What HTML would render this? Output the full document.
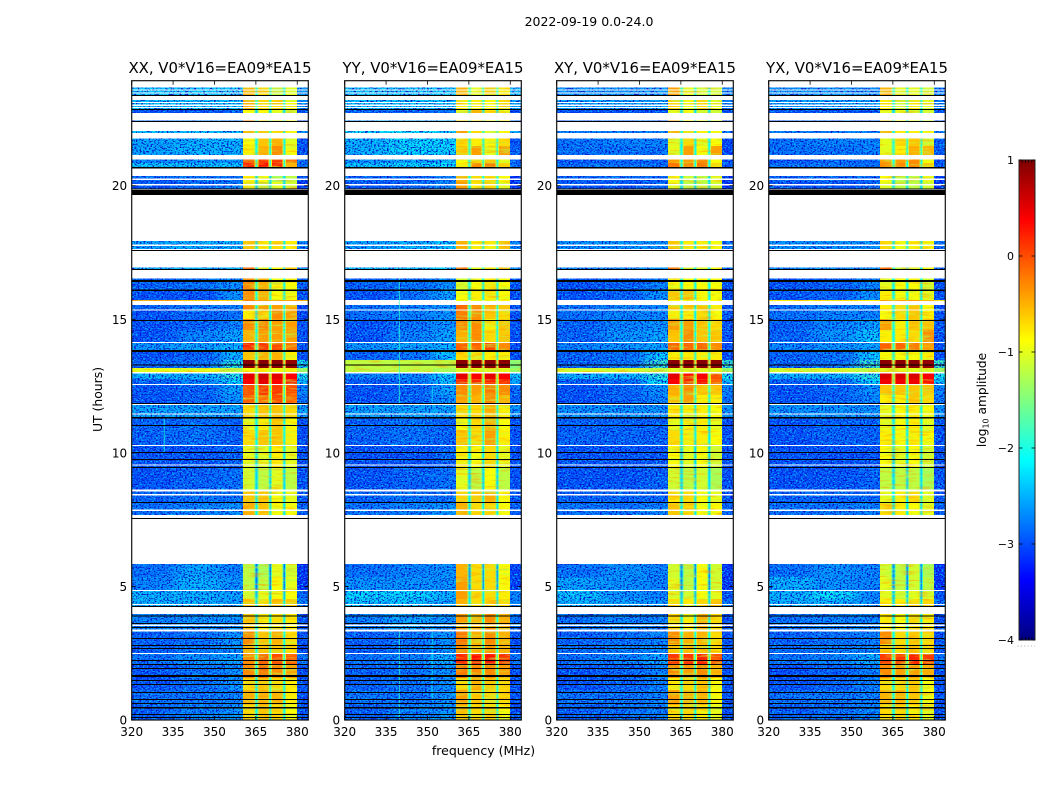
<!DOCTYPE html>
<html>
<head>
<meta charset="utf-8">
<title>2022-09-19 0.0-24.0</title>
<style>
html,body{margin:0;padding:0;background:#fff;width:1050px;height:800px;overflow:hidden}
svg{display:block}
text{font-family:"DejaVu Sans","Liberation Sans",sans-serif;fill:#000}
</style>
</head>
<body>
<svg id="fig" xmlns="http://www.w3.org/2000/svg" width="1050" height="800" viewBox="0 0 1050 800">
<defs>
<filter id="speck" x="0" y="0" width="100%" height="100%" color-interpolation-filters="sRGB">
<feGaussianBlur in="SourceGraphic" stdDeviation="7 0" result="blur"/>
<feComposite in="blur" in2="SourceAlpha" operator="in" result="smooth"/>
<feTurbulence type="fractalNoise" baseFrequency="0.55 0.7" numOctaves="2" seed="7" result="n"/>
<feColorMatrix in="n" type="matrix" values="0 0 0 0 0  0 0 0 0 0.7  0 0 0 0 1  5 0 0 0 -2.4" result="light"/>
<feColorMatrix in="n" type="matrix" values="0 0 0 0 0  0 0 0 0 0.05  0 0 0 0 0.8  0 5 0 0 -2.45" result="dark"/>
<feComposite in="light" in2="SourceAlpha" operator="in" result="lightIn"/>
<feComposite in="dark" in2="SourceAlpha" operator="in" result="darkIn"/>
<feMerge><feMergeNode in="SourceGraphic"/><feMergeNode in="smooth"/><feMergeNode in="lightIn"/><feMergeNode in="darkIn"/></feMerge>
</filter>
<filter id="mottle" x="0" y="0" width="100%" height="100%" color-interpolation-filters="sRGB">
<feTurbulence type="fractalNoise" baseFrequency="0.06 0.45" numOctaves="2" seed="11" result="n"/>
<feColorMatrix in="n" type="matrix" values="0 0 0 0 1  0 0 0 0 0.6  0 0 0 0 0  1.8 0 0 0 -0.9" result="warm"/>
<feColorMatrix in="n" type="matrix" values="0 0 0 0 0.7  0 0 0 0 1  0 0 0 0 0.3  0 1.8 0 0 -0.9" result="cool"/>
<feComposite in="warm" in2="SourceAlpha" operator="in" result="warmIn"/>
<feComposite in="cool" in2="SourceAlpha" operator="in" result="coolIn"/>
<feMerge><feMergeNode in="SourceGraphic"/><feMergeNode in="warmIn"/><feMergeNode in="coolIn"/></feMerge>
</filter>
<linearGradient id="jet-gradient" x1="0" y1="1" x2="0" y2="0"></linearGradient>
</defs>
<text x="589" y="26" font-size="12.5" text-anchor="middle">2022-09-19 0.0-24.0</text>
<text x="483.5" y="755" font-size="12.5" text-anchor="middle">frequency (MHz)</text>
<text transform="translate(102,399.5) rotate(-90)" font-size="12.4" text-anchor="middle">UT (hours)</text>
<g id="panels"></g>
<g id="colorbar"></g>
</svg>
<script>
// Axis tick labels
const freqTicks = [320, 335, 350, 365, 380];
const hourTicks = [0, 5, 10, 15, 20];
const colorTicks = [-4, -3, -2, -1, 0, 1];

// Frequency channel edges in MHz: 3 background blocks, 4 bands separated by gaps with soft shoulders, upper edge block
const channelEdges = [320, 336, 352, 360.4, 364.5, 364.9, 365.5, 365.9, 369.6, 370.0, 370.5, 370.9, 374.7, 375.1, 375.6, 376, 379.9, 384];
// Value column each channel reads: 0-2 background, 3-6 bands, 7 gap, 8 upper edge
const channelColumns = [0, 1, 2, 3, 3, 7, 4, 4, 4, 7, 5, 5, 5, 7, 6, 6, 8];
// Second column mixed 50/50 for shoulder channels, -1 when the channel reads one column
const channelMix = [-1, -1, -1, -1, 7, -1, 7, -1, 7, -1, 7, -1, 7, -1, 7, -1, -1];

// Time rows with data (UT hours)
const rowStart = [23.39,22.87,22.73,22.39,21.98,21.48,21.14,20.85,20.70,20.13,19.90,17.63,16.89,16.09,15.72,15.68,15.34,15.01,14.60,14.15,13.85,13.47,13.17,13.02,12.76,12.57,12.16,11.83,11.34,10.85,10.29,9.43,8.61,8.12,7.67,5.35,4.87,4.53,4.27,3.33,2.84,2.47,2.06,1.57,1.12,0.56,0];
const rowEnd = [23.68,23.20,22.83,22.44,22.04,21.77,21.48,20.98,20.85,20.36,20.13,17.93,16.94,16.53,16.09,15.72,15.53,15.34,15.01,14.60,14.11,13.78,13.47,13.17,12.97,12.76,12.54,12.16,11.79,11.28,10.85,10.29,9.43,8.61,8.12,5.84,5.35,4.83,4.53,3.97,3.33,2.84,2.47,2.06,1.57,1.12,0.56];

// log10 amplitude per row: bg0,bg1,bg2,band1,band2,band3,band4,gap,right
const xxLevels = [
[-2.3,-2.3,-2.3,-0.5,-0.7,-1.2,-1.0,-2.0,-2.6],
[-2.3,-2.3,-2.3,-0.5,-0.7,-0.7,-0.9,-2.0,-2.6],
[-3.0,-3.0,-2.9,-0.9,-0.9,-1.0,-1.1,-2.3,-3.0],
[-2.9,-2.8,-2.8,-0.3,-0.7,-0.7,-0.9,-2.2,-3.0],
[-2.3,-2.3,-2.3,-0.5,-0.6,-0.8,-0.9,-2.0,-2.6],
[-2.5,-2.4,-2.4,-0.9,-0.6,-0.5,-1.0,-2.1,-3.0],
[-2.5,-2.4,-2.4,-0.8,-0.5,-0.3,-0.9,-2.1,-3.0],
[-2.7,-2.6,-2.6,0.0,0.1,0.1,-0.2,-2.0,-2.8],
[-2.3,-2.3,-2.3,0.2,0.3,0.2,-0.5,-2.0,-2.8],
[-2.9,-2.8,-2.8,-0.8,-0.9,-1.3,-1.2,-2.3,-3.0],
[-3.0,-2.9,-2.7,-1.0,-1.2,-1.0,-1.1,-2.3,-3.2],
[-2.5,-2.4,-2.4,-0.6,-0.8,-0.7,-0.8,-2.2,-2.7],
[-2.4,-2.4,-2.4,-0.1,-1.0,-0.9,-0.7,-2.2,-2.6],
[-2.9,-2.8,-2.6,-0.3,-0.5,-0.9,-0.9,-2.0,-2.9],
[-3.0,-3.0,-2.6,-0.3,-0.5,-0.9,-0.9,-2.0,-3.0],
[-0.4,-0.6,-0.7,-0.3,-0.4,-0.4,-0.4,-0.5,-0.5],
[-2.9,-2.8,-2.7,-0.3,-0.4,-0.4,-0.5,-2.2,-3.1],
[-3.0,-2.9,-2.8,-0.8,-0.7,-0.3,-0.4,-2.2,-3.1],
[-3.0,-2.9,-2.7,-0.3,-0.3,-0.4,-0.4,-2.1,-3.0],
[-3.0,-2.7,-2.5,-0.5,-0.4,-0.4,-0.4,-2.1,-3.0],
[-2.6,-2.5,-2.4,0.2,0.1,0.0,-0.2,-2.0,-3.0],
[-3.0,-2.9,-2.4,-0.6,-0.5,-0.5,-0.8,-1.9,-3.0],
[-2.9,-2.8,-1.9,0.95,0.95,0.95,0.9,-1.3,-2.0],
[-1.0,-1.0,-1.2,-0.9,-0.8,-0.9,-0.9,-1.2,-1.4],
[-2.4,-2.4,-1.9,0.5,0.6,0.5,0.4,-1.4,-2.0],
[-2.9,-2.7,-2.2,0.4,0.5,0.4,0.3,-1.6,-2.4],
[-3.0,-2.9,-2.5,0.0,0.1,0.1,0.0,-1.9,-2.7],
[-3.0,-2.9,-2.6,-0.1,-0.2,0.0,-0.1,-2.0,-2.8],
[-2.5,-2.5,-2.5,-0.7,-0.6,-0.6,-0.7,-2.0,-2.5],
[-2.9,-2.8,-2.9,-1.0,-0.8,-0.6,-0.9,-2.1,-3.0],
[-2.9,-2.8,-2.9,-0.7,-0.6,-0.6,-0.8,-2.1,-3.0],
[-3.0,-3.0,-2.9,-1.0,-1.0,-0.8,-1.0,-2.2,-3.0],
[-3.0,-2.9,-2.8,-1.1,-1.2,-1.0,-1.2,-2.3,-3.0],
[-2.9,-2.8,-2.8,-0.6,-0.6,-0.9,-1.0,-2.2,-3.0],
[-2.8,-2.7,-2.6,-0.5,-0.6,-0.9,-0.9,-2.2,-2.9],
[-2.8,-2.5,-2.7,-1.2,-1.3,-1.0,-1.1,-2.8,-3.2],
[-2.7,-2.4,-2.6,-1.2,-1.2,-0.9,-1.0,-2.8,-3.2],
[-2.4,-2.4,-2.5,-1.1,-1.0,-0.9,-0.9,-2.4,-2.9],
[-2.4,-2.4,-2.5,-0.6,-0.7,-0.6,-0.6,-2.3,-2.7],
[-2.7,-2.6,-2.6,-0.6,-0.8,-0.7,-0.8,-2.2,-3.0],
[-2.9,-2.8,-2.6,-0.3,-0.6,-0.5,-0.7,-2.1,-3.0],
[-2.9,-2.8,-2.6,-0.5,-0.6,-0.6,-0.7,-2.1,-3.0],
[-2.8,-2.6,-2.5,-0.3,-0.1,0.0,-0.1,-2.0,-2.8],
[-3.0,-2.8,-2.6,-0.3,-0.2,-0.3,-0.4,-2.0,-3.0],
[-3.0,-2.8,-2.6,-0.7,-0.6,-0.7,-0.8,-2.1,-3.0],
[-2.8,-2.8,-2.7,-0.5,-0.5,-0.5,-0.8,-2.1,-3.0],
[-2.9,-2.7,-2.6,-0.7,-0.6,-0.7,-0.9,-2.1,-3.0]
];
const yyLevels = [
[-2.3,-2.3,-2.3,-0.5,-1.0,-0.6,-0.8,-1.9,-2.4],
[-2.3,-2.3,-2.3,-0.8,-0.8,-0.9,-0.7,-1.9,-2.5],
[-2.9,-2.9,-2.8,-1.0,-0.5,-0.8,-1.0,-2.2,-3.0],
[-2.5,-2.5,-2.5,-0.8,-0.9,-0.9,-0.9,-2.1,-2.8],
[-2.1,-2.1,-2.2,-0.4,-0.7,-1.0,-0.9,-1.9,-2.4],
[-2.4,-2.2,-2.2,-0.7,-0.8,-0.9,-0.7,-1.9,-3.0],
[-2.4,-2.2,-2.2,-0.6,-0.4,-1.0,-0.4,-1.9,-2.9],
[-2.6,-2.5,-2.4,-0.9,-0.7,-0.6,-1.0,-2.0,-2.9],
[-2.3,-2.2,-2.1,-0.8,-0.3,-0.2,-0.7,-1.9,-2.8],
[-2.9,-2.9,-2.7,-0.5,-0.7,-0.7,-0.9,-2.1,-3.2],
[-3.0,-2.9,-2.7,-0.4,-0.8,-0.7,-1.0,-2.2,-3.2],
[-2.5,-2.4,-2.3,-0.5,-0.8,-0.8,-0.6,-2.0,-2.7],
[-2.3,-2.3,-2.2,-0.1,-1.0,-0.9,-0.5,-2.0,-2.6],
[-2.9,-2.8,-2.6,-1.1,-0.9,-0.8,-0.9,-2.0,-3.0],
[-3.0,-2.8,-2.5,-0.9,-0.8,-0.8,-0.9,-2.0,-3.0],
[null,null,null,-0.9,-0.9,-0.9,-0.9,null,null],
[-2.8,-2.7,-2.6,-0.1,-0.3,-0.5,-0.6,-2.0,-3.0],
[-2.8,-2.7,-2.6,-0.2,-0.3,-0.6,-0.7,-2.0,-3.0],
[-3.0,-2.8,-2.6,-0.3,-0.3,-0.8,-0.6,-2.0,-3.0],
[-3.0,-2.7,-2.5,-0.5,-0.3,-0.7,-0.6,-2.0,-3.0],
[-2.6,-2.5,-2.4,-0.1,-0.1,0.0,-0.3,-1.9,-3.0],
[-2.9,-2.8,-2.3,-0.7,-0.7,-0.8,-0.8,-1.9,-3.0],
[-1.2,-1.2,-1.2,0.95,0.95,0.95,0.95,-1.3,-1.5],
[-1.2,-1.2,-1.3,-1.0,-1.0,-1.0,-1.0,-1.2,-1.4],
[-2.7,-2.7,-2.2,0.5,0.4,0.5,0.4,-1.4,-2.3],
[-2.9,-2.8,-2.3,0.2,0.2,0.3,0.2,-1.6,-2.5],
[-3.0,-2.9,-2.5,-0.3,-0.4,-0.2,-0.3,-1.9,-2.8],
[-3.0,-2.9,-2.6,-0.4,-0.5,-0.3,-0.5,-2.0,-2.9],
[-2.5,-2.5,-2.5,-0.7,-0.7,-0.5,-0.8,-2.0,-2.6],
[-2.9,-2.8,-2.9,-0.9,-0.7,-0.5,-0.9,-2.1,-3.0],
[-2.9,-2.8,-2.9,-0.6,-0.7,-0.4,-0.8,-2.1,-3.0],
[-3.0,-3.0,-2.9,-0.8,-0.9,-0.7,-1.0,-2.2,-3.0],
[-3.0,-2.9,-2.8,-1.0,-1.2,-0.9,-1.2,-2.3,-3.0],
[-2.9,-2.8,-2.8,-0.7,-0.6,-0.5,-0.9,-2.2,-3.0],
[-2.8,-2.7,-2.6,-0.5,-0.7,-0.7,-0.9,-2.2,-2.9],
[-2.8,-2.7,-2.6,-0.5,-0.7,-0.7,-0.9,-2.6,-3.1],
[-2.6,-2.6,-2.6,-0.4,-0.7,-0.7,-0.9,-2.6,-3.1],
[-2.2,-2.2,-2.4,-0.4,-0.7,-0.7,-0.8,-2.2,-2.7],
[-2.3,-2.3,-2.5,-0.5,-0.7,-0.7,-0.7,-2.2,-2.7],
[-2.7,-2.5,-2.6,-0.4,-0.5,-0.3,-0.5,-2.1,-2.8],
[-2.9,-2.8,-2.6,-0.2,-0.5,-0.3,-0.5,-2.0,-3.0],
[-2.9,-2.8,-2.6,-0.3,-0.5,-0.4,-0.5,-2.0,-3.0],
[-2.8,-2.7,-2.4,0.2,0.3,0.3,0.2,-1.9,-2.8],
[-2.9,-2.8,-2.6,-0.2,-0.3,-0.3,-0.4,-2.0,-3.0],
[-2.9,-2.8,-2.6,-0.7,-0.5,-0.6,-0.7,-2.0,-3.0],
[-2.8,-2.8,-2.6,-0.4,-0.6,-0.7,-0.7,-2.0,-3.0],
[-2.9,-2.7,-2.6,-0.6,-0.7,-0.7,-0.9,-2.0,-3.0]
];
const xyLevels = [
[-2.6,-2.6,-2.6,-0.4,-1.0,-1.1,-1.1,-2.0,-2.7],
[-2.5,-2.5,-2.5,-0.7,-0.9,-0.7,-1.0,-2.0,-2.7],
[-3.0,-3.0,-3.0,-1.0,-0.9,-1.1,-1.1,-2.3,-3.0],
[-2.9,-2.9,-2.9,-0.4,-0.9,-1.0,-1.1,-2.3,-3.0],
[-2.7,-2.7,-2.7,-0.5,-0.7,-0.8,-0.9,-2.2,-2.8],
[-2.8,-2.7,-2.7,-1.0,-0.7,-1.0,-0.9,-2.1,-3.1],
[-2.8,-2.8,-2.8,-1.0,-0.4,-0.9,-0.4,-2.1,-3.1],
[-3.0,-2.9,-2.9,-0.4,-0.4,-0.3,-0.9,-2.1,-3.0],
[-2.8,-2.8,-2.8,-0.2,-0.3,-0.2,-0.7,-2.1,-3.0],
[-2.9,-2.9,-2.9,-0.9,-1.1,-1.2,-1.0,-2.3,-3.1],
[-3.0,-3.0,-2.9,-1.0,-1.2,-1.2,-1.1,-2.3,-3.2],
[-2.6,-2.6,-2.6,-0.6,-0.8,-0.8,-0.9,-2.2,-2.8],
[-2.6,-2.6,-2.6,-0.1,-1.1,-1.0,-0.9,-2.2,-2.8],
[-3.0,-2.9,-2.7,-0.9,-0.9,-0.9,-0.9,-2.1,-3.0],
[-3.0,-2.9,-2.6,-0.6,-0.6,-0.9,-0.9,-2.1,-3.0],
[null,null,null,-0.9,-0.9,-0.9,-0.9,null,null],
[-2.8,-2.7,-2.7,-0.6,-0.6,-0.6,-0.8,-2.2,-3.0],
[-2.8,-2.7,-2.7,-0.8,-0.8,-0.7,-0.9,-2.2,-3.0],
[-2.9,-2.7,-2.6,-0.4,-0.4,-0.6,-0.7,-2.1,-3.0],
[-2.9,-2.6,-2.5,-0.6,-0.3,-0.6,-0.6,-2.1,-3.0],
[-2.7,-2.6,-2.5,-0.1,-0.1,-0.1,-0.3,-2.0,-3.0],
[-2.9,-2.8,-2.3,-0.8,-0.8,-0.8,-0.8,-1.9,-3.0],
[-2.9,-2.8,-1.8,0.95,0.95,0.95,0.95,-1.3,-1.8],
[-1.1,-1.1,-1.2,-1.0,-1.0,-1.0,-1.0,-1.2,-1.4],
[-2.4,-2.4,-1.9,0.5,0.3,0.4,0.0,-1.4,-2.0],
[-2.9,-2.8,-2.1,0.4,0.2,0.3,-0.1,-1.6,-2.3],
[-3.0,-2.9,-2.6,-0.5,-0.3,-0.6,-0.6,-1.9,-2.7],
[-3.0,-2.9,-2.7,-0.6,-0.4,-0.8,-0.8,-2.0,-2.8],
[-2.6,-2.6,-2.6,-0.8,-0.8,-0.8,-0.9,-2.1,-2.6],
[-2.9,-2.9,-2.9,-1.0,-0.9,-0.8,-1.0,-2.2,-3.0],
[-2.9,-2.9,-2.9,-0.7,-0.8,-0.8,-0.9,-2.2,-3.0],
[-3.0,-3.0,-3.0,-0.9,-1.0,-0.9,-1.1,-2.3,-3.0],
[-3.0,-3.0,-2.9,-1.1,-1.2,-1.1,-1.3,-2.3,-3.0],
[-2.9,-2.9,-2.9,-0.8,-0.7,-0.9,-1.0,-2.2,-3.0],
[-2.8,-2.8,-2.7,-0.6,-0.7,-0.9,-0.9,-2.2,-2.9],
[-2.8,-2.6,-2.7,-1.1,-1.2,-0.9,-1.1,-2.7,-3.2],
[-2.5,-2.6,-2.7,-1.0,-1.2,-0.9,-1.1,-2.7,-3.2],
[-2.3,-2.6,-2.7,-1.0,-1.1,-0.9,-1.0,-2.4,-3.0],
[-2.4,-2.5,-2.6,-0.7,-0.8,-0.7,-0.6,-2.3,-2.8],
[-2.8,-2.7,-2.7,-0.7,-0.8,-0.5,-0.7,-2.2,-3.0],
[-2.9,-2.8,-2.7,-0.3,-0.5,-0.5,-0.7,-2.1,-3.0],
[-2.8,-2.7,-2.7,-0.6,-0.6,-0.6,-0.7,-2.1,-3.0],
[-2.8,-2.7,-2.5,0.1,0.1,0.2,0.0,-2.0,-2.8],
[-3.0,-2.9,-2.7,-0.3,-0.4,-0.3,-0.5,-2.1,-3.0],
[-3.0,-2.9,-2.7,-0.8,-0.7,-0.6,-0.9,-2.1,-3.0],
[-2.8,-2.8,-2.7,-0.4,-0.5,-0.5,-0.9,-2.1,-3.0],
[-2.9,-2.8,-2.7,-0.7,-0.7,-0.8,-1.0,-2.1,-3.0]
];
const yxLevels = [
[-2.6,-2.6,-2.6,-0.5,-1.0,-1.0,-1.1,-2.0,-2.7],
[-2.5,-2.5,-2.5,-0.8,-1.1,-0.8,-1.0,-2.0,-2.7],
[-3.0,-3.0,-3.0,-1.0,-1.0,-1.1,-1.1,-2.3,-3.0],
[-2.9,-2.9,-2.9,-0.5,-0.9,-1.0,-1.1,-2.3,-3.0],
[-2.7,-2.7,-2.7,-0.5,-0.8,-0.8,-0.9,-2.2,-2.8],
[-2.8,-2.7,-2.7,-1.0,-0.7,-0.6,-1.1,-1.9,-2.9],
[-2.8,-2.8,-2.7,-1.0,-0.8,-0.5,-0.5,-1.9,-2.9],
[-3.0,-2.9,-2.9,-0.4,-0.4,-0.3,-0.9,-2.1,-3.0],
[-2.8,-2.8,-2.8,-0.3,-0.3,-0.3,-0.7,-2.1,-3.0],
[-2.9,-2.9,-2.9,-0.9,-1.2,-1.2,-1.0,-2.3,-3.1],
[-3.0,-3.0,-2.9,-1.0,-1.2,-1.2,-1.1,-2.3,-3.2],
[-2.6,-2.6,-2.6,-0.7,-0.9,-0.8,-0.9,-2.2,-2.8],
[-2.6,-2.6,-2.6,-0.1,-1.2,-1.0,-0.9,-2.2,-2.8],
[-3.0,-2.9,-2.7,-1.0,-0.9,-0.9,-1.1,-2.1,-3.0],
[-3.0,-2.9,-2.6,-0.8,-0.9,-0.9,-1.0,-2.1,-3.0],
[-0.8,-0.7,-0.8,-0.4,-0.4,-0.4,-0.5,-0.6,-0.7],
[-2.8,-2.7,-2.7,-0.8,-0.7,-0.6,-0.9,-2.2,-3.0],
[-2.8,-2.7,-2.7,-0.9,-0.7,-0.6,-0.8,-2.2,-3.0],
[-2.9,-2.7,-2.5,-0.4,-0.8,-0.6,-0.6,-2.1,-3.0],
[-2.9,-2.6,-2.3,-0.8,-0.8,-0.7,-0.3,-2.1,-3.0],
[-2.7,-2.6,-2.5,-0.1,-0.1,-0.2,-0.4,-2.0,-3.0],
[-2.9,-2.8,-2.3,-0.9,-0.9,-0.9,-0.8,-1.9,-3.0],
[-2.9,-2.8,-1.8,0.95,0.95,0.95,0.9,-1.3,-1.8],
[-1.1,-1.1,-1.2,-1.0,-1.0,-1.0,-1.0,-1.2,-1.4],
[-2.4,-2.4,-1.9,0.55,0.55,0.55,0.4,-1.4,-2.0],
[-2.9,-2.8,-2.1,0.45,0.45,0.45,0.3,-1.6,-2.3],
[-3.0,-2.9,-2.6,-0.6,-0.6,-0.6,-0.6,-1.9,-2.7],
[-3.0,-2.9,-2.7,-0.8,-0.8,-0.6,-0.7,-2.0,-2.8],
[-2.6,-2.6,-2.6,-1.0,-0.9,-0.8,-0.9,-2.1,-2.6],
[-3.0,-2.9,-2.9,-1.0,-0.9,-0.8,-1.0,-2.2,-3.0],
[-3.0,-2.9,-2.9,-0.8,-0.9,-0.8,-0.9,-2.2,-3.0],
[-3.0,-3.0,-3.0,-0.9,-1.0,-0.9,-1.1,-2.3,-3.0],
[-3.0,-3.0,-2.9,-1.2,-1.2,-1.2,-1.3,-2.3,-3.0],
[-2.9,-2.9,-2.9,-1.0,-0.8,-0.7,-1.0,-2.2,-3.0],
[-2.8,-2.8,-2.7,-0.7,-0.8,-0.9,-1.0,-2.2,-2.9],
[-2.8,-2.6,-2.7,-1.1,-1.2,-1.1,-1.3,-2.7,-3.2],
[-2.4,-2.6,-2.7,-1.0,-1.2,-1.1,-1.2,-2.7,-3.2],
[-2.4,-2.1,-2.7,-1.0,-1.1,-1.0,-1.1,-2.4,-3.0],
[-2.4,-2.4,-2.6,-0.8,-0.8,-0.7,-0.7,-2.3,-2.8],
[-2.8,-2.7,-2.7,-0.8,-0.9,-0.7,-0.8,-2.2,-3.0],
[-2.9,-2.8,-2.7,-0.3,-0.7,-0.6,-0.7,-2.1,-3.0],
[-2.8,-2.7,-2.7,-0.6,-0.7,-0.6,-0.7,-2.1,-3.0],
[-2.8,-2.7,-2.4,0.1,0.1,0.2,0.1,-2.0,-2.8],
[-3.0,-2.9,-2.7,-0.3,-0.4,-0.4,-0.5,-2.1,-3.0],
[-3.0,-2.9,-2.7,-0.7,-0.7,-0.6,-0.9,-2.1,-3.0],
[-2.8,-2.8,-2.7,-0.5,-0.5,-0.6,-0.9,-2.1,-3.0],
[-2.9,-2.8,-2.7,-0.7,-0.7,-0.8,-1.0,-2.1,-3.0]
];

// Flagged time spans shared by all baselines (UT hours)
const blackLo = [23.36,22.83,22.39,20.65,19.87,19.66,17.56,16.87,16.39,16.06,14.93,13.78,13.28,11.83,11.28,11.00,9.99,9.73,9.43,8.12,7.52,4.23,3.87,3.59,3.44,3.03,2.77,2.66,2.21,2.06,1.91,1.61,1.46,1.31,1.01,0.75,0.60,0.43,0.19,0.07];
const blackHi = [23.39,22.87,22.43,20.70,19.89,19.84,17.59,16.89,16.47,16.12,14.97,13.85,13.31,11.86,11.34,11.04,10.03,9.77,9.47,8.16,7.56,4.27,3.91,3.63,3.48,3.07,2.81,2.69,2.25,2.10,1.95,1.68,1.50,1.35,1.05,0.79,0.64,0.49,0.22,0.11];
const whiteLo = [23.57,23.45,23.09,22.99,22.90,20.21,20.01,17.74,15.32,11.44,10.27,9.52,8.56,8.41,7.82,4.30,3.52,3.32,2.47];
const whiteHi = [23.60,23.49,23.13,23.03,22.94,20.27,20.06,17.79,15.37,11.48,10.30,9.56,8.63,8.46,7.87,4.35,3.57,3.39,2.51];

// Narrow interference channels: panel index, MHz, UT span, log10 amplitude
const rfiPanel = [1, 1, 1, 1, 0];
const rfiFreq = [339.8, 339.8, 351.7, 351.7, 331.8];
const rfiLo = [11.83, 0, 0.8, 11.83, 10.0];
const rfiHi = [16.53, 3.33, 3.33, 12.5, 11.3];
const rfiLevel = [-1.9, -1.9, -2.1, -2.1, -2.0];

const panelTitles = ['XX, V0*V16=EA09*EA15', 'YY, V0*V16=EA09*EA15', 'XY, V0*V16=EA09*EA15', 'YX, V0*V16=EA09*EA15'];
const panelKeys = ['xx', 'yy', 'xy', 'yx'];
const panelLevels = [xxLevels, yyLevels, xyLevels, yxLevels];
const panelLefts = [131.7, 344.7, 556.7, 768.7];

const NS = 'http://www.w3.org/2000/svg';
const AX_W = 176.6, AX_TOP = 80.7, AX_BOTTOM = 720;
const F_MIN = 320, F_MAX = 384, H_MIN = 0, H_MAX = 23.93, C_MIN = -4, C_MAX = 1;
const CB_L = 1019, CB_R = 1035, CB_T = 160, CB_B = 640;

function make(parent, tag, attrs, text) {
  const el = document.createElementNS(NS, tag);
  for (const k in attrs) el.setAttribute(k, attrs[k]);
  if (text !== undefined) el.textContent = text;
  parent.appendChild(el);
  return el;
}
function yScale(h) { return AX_BOTTOM - (h - H_MIN) / (H_MAX - H_MIN) * (AX_BOTTOM - AX_TOP); }
function xScale(left, f) { return left + (f - F_MIN) / (F_MAX - F_MIN) * AX_W; }
function cScale(v) { return CB_B - (v - C_MIN) / (C_MAX - C_MIN) * (CB_B - CB_T); }
function jet(v) {
  const t = Math.max(0, Math.min(1, (v - C_MIN) / (C_MAX - C_MIN)));
  const c = x => Math.round(255 * Math.max(0, Math.min(1, 1.5 - Math.abs(4 * t - x))));
  return 'rgb(' + c(3) + ',' + c(2) + ',' + c(1) + ')';
}
function label(v) { return v < 0 ? '\u2212' + Math.abs(v) : String(v); }

const panelsRoot = document.getElementById('panels');
panelKeys.forEach(function (key, p) {
  const left = panelLefts[p], levels = panelLevels[p];
  const right = left + AX_W;
  const g = make(panelsRoot, 'g', {});
  
  

  const bgCells = make(g, 'g', { filter: 'url(#speck)', 'shape-rendering': 'crispEdges' });
  
  
  const bandCells = make(g, 'g', { filter: 'url(#mottle)', 'shape-rendering': 'crispEdges' });
  
  
  const hotCells = make(g, 'g', { 'shape-rendering': 'crispEdges' });
  
  

  rowStart.forEach(function (start, r) {
    channelColumns.forEach(function (col, c) {
      let value = levels[r][col];
      if (value === null) return;
      const mixCol = channelMix[c];
      if (mixCol >= 0 && levels[r][mixCol] !== null) value = (value + levels[r][mixCol]) / 2;
      const x0 = xScale(left, channelEdges[c]), x1 = xScale(left, channelEdges[c + 1]);
      const y1 = yScale(start), y0 = yScale(rowEnd[r]);
      const isBackground = (col < 3 || col === 8) && value < -1.6;
      const target = isBackground ? bgCells : (value > 0.3 ? hotCells : bandCells);
      const cell = make(target, 'rect', { x: x0, y: y0, width: x1 - x0, height: Math.max(y1 - y0, 1), fill: jet(value) });
      
      
    });
  });

  rfiPanel.forEach(function (panelIndex, i) {
    if (panelIndex !== p) return;
    const x = xScale(left, rfiFreq[i]);
    const line = make(g, 'line', { x1: x, x2: x, y1: yScale(rfiLo[i]), y2: yScale(rfiHi[i]), stroke: jet(rfiLevel[i]), 'stroke-width': 1, opacity: 0.75 });
    
    
  });

  const flags = make(g, 'g', { 'shape-rendering': 'crispEdges' });
  
  
  whiteLo.forEach(function (lo, i) {
    const y0 = yScale(whiteHi[i]), y1 = yScale(lo);
    const line = make(flags, 'rect', { x: left, y: y0, width: AX_W, height: Math.max(y1 - y0, 1), fill: '#fff' });
    
    
  });
  blackLo.forEach(function (lo, i) {
    const y0 = yScale(blackHi[i]), y1 = yScale(lo);
    const line = make(flags, 'rect', { x: left, y: y0, width: AX_W, height: Math.max(y1 - y0, 1), fill: '#000' });
    
    
  });

  const frame = make(g, 'rect', { x: left, y: AX_TOP, width: AX_W, height: AX_BOTTOM - AX_TOP, fill: 'none', stroke: '#111', 'stroke-width': 1.2 });
  
  

  freqTicks.forEach(function (f) {
    const x = xScale(left, f);
    const a = make(g, 'line', { x1: x, x2: x, y1: AX_BOTTOM, y2: AX_BOTTOM - 4, stroke: '#000', 'stroke-width': 0.8 });
    
    
    const b = make(g, 'line', { x1: x, x2: x, y1: AX_TOP, y2: AX_TOP + 4, stroke: '#000', 'stroke-width': 0.8 });
    
    
    const t = make(g, 'text', { x: x, y: 736, 'font-size': 12, 'text-anchor': 'middle' }, String(f));
    
    
  });
  hourTicks.forEach(function (h) {
    const y = yScale(h);
    const a = make(g, 'line', { x1: left, x2: left + 4, y1: y, y2: y, stroke: '#000', 'stroke-width': 0.8 });
    
    
    const b = make(g, 'line', { x1: right, x2: right - 4, y1: y, y2: y, stroke: '#000', 'stroke-width': 0.8 });
    
    
    const t = make(g, 'text', { x: left - 4.5, y: y + 4.5, 'font-size': 12, 'text-anchor': 'end' }, String(h));
    
    
  });
  const title = make(g, 'text', { x: left + AX_W / 2, y: 73, 'font-size': 14.9, 'text-anchor': 'middle' }, panelTitles[p]);
  
  
});

// Colorbar
const grad = document.getElementById('jet-gradient');
for (let i = 0; i <= 64; i++) {
  const v = C_MIN + (C_MAX - C_MIN) * i / 64;
  make(grad, 'stop', { offset: (i / 64), 'stop-color': jet(v) });
}
const cb = document.getElementById('colorbar');
const cbBar = make(cb, 'rect', { x: CB_L, y: CB_T, width: CB_R - CB_L, height: CB_B - CB_T, fill: 'url(#jet-gradient)', stroke: '#222', 'stroke-width': 1 });


colorTicks.forEach(function (v) {
  const y = cScale(v);
  const a = make(cb, 'line', { x1: CB_L, x2: CB_L + 3.5, y1: y, y2: y, stroke: '#000', 'stroke-width': 0.8 });
  
  
  const b = make(cb, 'line', { x1: CB_R, x2: CB_R - 3.5, y1: y, y2: y, stroke: '#000', 'stroke-width': 0.8 });
  
  
  const t = make(cb, 'text', { x: CB_L - 5, y: y + 4, 'font-size': 11, 'text-anchor': 'end' }, label(v));
  
  
});
for (let i = 1; i <= 4; i++) {
  const step = (CB_R - CB_L) / 5;
  [CB_T, CB_B].forEach(function (yy) {
    const m = make(cb, 'line', { x1: CB_L + i * step, x2: CB_L + i * step, y1: yy, y2: yy === CB_T ? yy + 3 : yy - 3, stroke: '#000', 'stroke-width': 0.7 });
    
    
  });
}
const dots = make(cb, 'line', { x1: 1017.5, x2: 1035, y1: 646, y2: 646, stroke: '#888', 'stroke-width': 0.8, 'stroke-dasharray': '1 2.4' });


const cbLabel = make(cb, 'text', { transform: 'translate(986,400) rotate(-90)', 'font-size': 12.2, 'text-anchor': 'middle' });


make(cbLabel, 'tspan', {}, 'log');
make(cbLabel, 'tspan', { 'font-size': 8, dy: 2.5 }, '10');
make(cbLabel, 'tspan', { dy: -2.5 }, ' amplitude');
</script>
</body>
</html>
